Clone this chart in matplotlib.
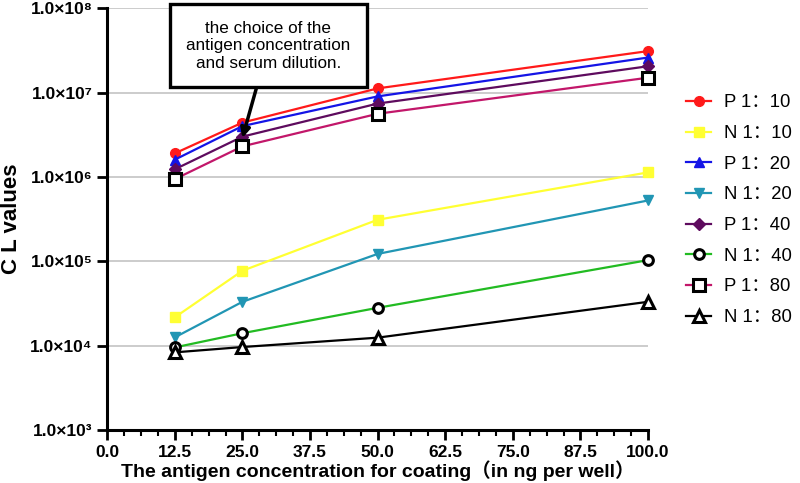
import matplotlib.pyplot as plt
from matplotlib.ticker import FixedLocator, MultipleLocator

plt.rcParams["font.family"] = ["Liberation Sans", "Noto Sans CJK SC", "DejaVu Sans"]

# concentrations (ng per well)
conc = [12.5, 25.0, 50.0, 100.0]

p10 = [1.9e6, 4.4e6, 1.12e7, 3.1e7]
n10 = [2.16e4, 7.7e4, 3.1e5, 1.13e6]
p20 = [1.6e6, 4.0e6, 9.0e6, 2.6e7]
n20 = [1.25e4, 3.3e4, 1.22e5, 5.25e5]
p40 = [1.23e6, 3.0e6, 7.4e6, 2.05e7]
n40 = [9.5e3, 1.4e4, 2.8e4, 1.03e5]
p80 = [0.94e6, 2.3e6, 5.6e6, 1.5e7]
n80 = [8.3e3, 9.6e3, 1.24e4, 3.3e4]

labels = ["P 1：10", "N 1：10", "P 1：20", "N 1：20",
          "P 1：40", "N 1：40", "P 1：80", "N 1：80"]

x_ticks = [0, 12.5, 25, 37.5, 50, 62.5, 75, 87.5, 100]
y_ticks = [1e3, 1e4, 1e5, 1e6, 1e7, 1e8]
y_labels = ["1.0×10³", "1.0×10⁴", "1.0×10⁵", "1.0×10⁶", "1.0×10⁷", "1.0×10⁸"]

fig = plt.figure(figsize=(8, 4.83), dpi=100)
ax = fig.add_axes([0.134, 0.11, 0.676, 0.873])

styles = [
    (p10, "#ff1a1a", dict(marker="o", ms=7, mfc="#ff1a1a", mec="#ff1a1a")),
    (n10, "#ffff33", dict(marker="s", ms=7, mfc="#ffff33", mec="#ffff33")),
    (p20, "#1414e6", dict(marker="^", ms=7, mfc="#1414e6", mec="#1414e6")),
    (n20, "#2196b4", dict(marker="v", ms=7, mfc="#2196b4", mec="#2196b4")),
    (p40, "#5e0b5e", dict(marker="D", ms=6, mfc="#5e0b5e", mec="#5e0b5e")),
    (n40, "#22bb22", dict(marker="o", ms=7, mfc="white", mec="black", mew=2.2)),
    (p80, "#c2176a", dict(marker="s", ms=8, mfc="white", mec="black", mew=2.2)),
    (n80, "black", dict(marker="^", ms=8, mfc="white", mec="black", mew=2.2)),
]

for (vals, col, mk), lab in zip(styles, labels):
    ax.plot(conc, vals, color=col, lw=1.6, label=lab, clip_on=False, **mk)

ax.set_yscale("log")
ax.set_xlim(0, 100)
ax.set_ylim(1e3, 1e8)

for y in y_ticks[1:]:
    ax.axhline(y, color="#cccccc", lw=1.4, zorder=0)

ax.yaxis.set_major_locator(FixedLocator(y_ticks))
ax.yaxis.set_minor_locator(FixedLocator([]))
ax.set_yticklabels(y_labels, fontweight="bold", fontsize=12.5)
ax.set_xticks(x_ticks)
ax.set_xticklabels([f"{v:.1f}" for v in x_ticks], fontweight="bold", fontsize=12.5)
ax.xaxis.set_minor_locator(MultipleLocator(3.125))

ax.tick_params(axis="both", which="major", width=2, length=7, color="black")
ax.tick_params(axis="x", which="major", pad=4)
ax.tick_params(axis="x", which="minor", width=1.5, length=4)

for side in ("top", "right"):
    ax.spines[side].set_visible(False)
for side in ("left", "bottom"):
    ax.spines[side].set_linewidth(2.2)

ax.set_xlabel("The antigen concentration for coating（in ng per well）",
              fontweight="bold", fontsize=14, labelpad=0)
ax.set_ylabel("C L values", fontweight="bold", fontsize=16, labelpad=6)

ax.annotate("the choice of the\nantigen concentration\nand serum dilution.",
            xy=(25, 2.9e6), xytext=(29.8, 3.6e7),
            ha="center", va="center", fontsize=12.3, linespacing=1.2,
            bbox=dict(boxstyle="square,pad=0.95", fc="white", ec="black", lw=2.4),
            arrowprops=dict(arrowstyle="-|>", color="black", lw=2.5, mutation_scale=14,
                            shrinkA=0, shrinkB=0))

ax.legend(loc="upper left", bbox_to_anchor=(1.04, 0.835), frameon=False,
          fontsize=13.3, labelspacing=0.74, handlelength=1.35, handletextpad=0.7)

fig.savefig("out.png", dpi=100)
